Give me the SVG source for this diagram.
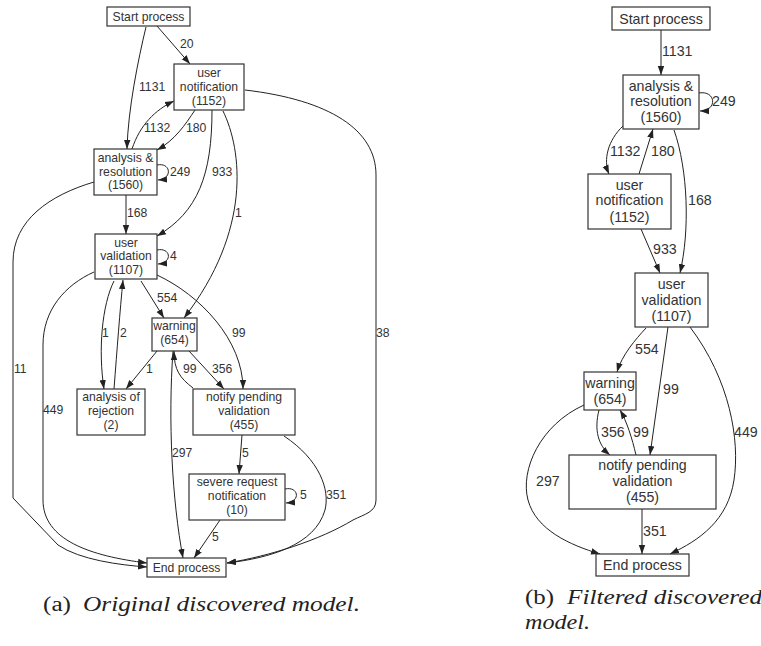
<svg xmlns="http://www.w3.org/2000/svg" width="761" height="646" viewBox="0 0 761 646">
<style>
  .box { fill: #fff; stroke: #333; stroke-width: 1.2; }
  .edge { fill: none; stroke: #222; stroke-width: 1; }
  .nl { font-family: "Liberation Sans", Arial, sans-serif; font-size: 12.2px; fill: #333; text-anchor: middle; dominant-baseline: central; }
  .nr { font-family: "Liberation Sans", Arial, sans-serif; font-size: 14.2px; fill: #333; text-anchor: middle; dominant-baseline: central; }
  .el { font-family: "Liberation Sans", Arial, sans-serif; font-size: 12.2px; fill: #333; dominant-baseline: central; }
  .er { font-family: "Liberation Sans", Arial, sans-serif; font-size: 14.2px; fill: #333; dominant-baseline: central; }
  .cap { font-family: "Liberation Serif", "Times New Roman", serif; font-size: 20px; fill: #222; }
  .capi { font-family: "Liberation Serif", "Times New Roman", serif; font-size: 20px; font-style: italic; fill: #222; }
</style>
<defs>
  <marker id="arr" markerUnits="userSpaceOnUse" markerWidth="10" markerHeight="8" refX="9" refY="4" orient="auto">
    <path d="M0,0.8 L9,4 L0,7.2 Z" fill="#222"/>
  </marker>
</defs>

<!-- left graph: connectors -->
<g id="edges-a">
  <path class="edge" marker-end="url(#arr)" d="M157,26 L190,64"/>
  <path class="edge" marker-end="url(#arr)" d="M146,27 C138,60 128,110 127,149"/>
  <path class="edge" marker-end="url(#arr)" d="M132,149 C140,125 155,110 174,101"/>
  <path class="edge" marker-end="url(#arr)" d="M195,110 C185,125 175,140 157,150"/>
  <path class="edge" marker-end="url(#arr)" d="M212,110 C212,175 198,212 157,236"/>
  <path class="edge" marker-end="url(#arr)" d="M223,111 C242,150 252,230 184,318"/>
  <path class="edge" marker-end="url(#arr)" d="M245,90 C330,100 376,130 376,175 L376,500 C376,512 365,514 353,520 C320,540 270,556 227,563"/>
  <path class="edge" marker-end="url(#arr)" d="M157,165 C171,162 173,179 158,180"/>
  <path class="edge" marker-end="url(#arr)" d="M126,195 L126,234"/>
  <path class="edge" marker-end="url(#arr)" d="M94,182 C50,195 13,220 13,262 L13,498 L58,545 C80,560 120,565 147,567"/>
  <path class="edge" marker-end="url(#arr)" d="M157,250 C171,247 173,263 158,264"/>
  <path class="edge" marker-end="url(#arr)" d="M94,272 C65,285 43,310 43,345 L43,500 C43,540 90,556 147,563"/>
  <path class="edge" marker-end="url(#arr)" d="M114,281 C102,305 98,350 104,389"/>
  <path class="edge" marker-end="url(#arr)" d="M114,389 C117,350 120,310 123,280"/>
  <path class="edge" marker-end="url(#arr)" d="M141,281 L164,318"/>
  <path class="edge" marker-end="url(#arr)" d="M157,275 C200,295 243,340 243,389"/>
  <path class="edge" marker-end="url(#arr)" d="M157,351 L126,389"/>
  <path class="edge" marker-end="url(#arr)" d="M189,351 L224,389"/>
  <path class="edge" marker-end="url(#arr)" d="M193,388 C180,378 174,370 174,351"/>
  <path class="edge" marker-end="url(#arr)" d="M173,351 C168,420 172,500 183,558"/>
  <path class="edge" marker-end="url(#arr)" d="M242,435 L239,474"/>
  <path class="edge" marker-end="url(#arr)" d="M284,436 C320,460 330,490 325,510 C315,545 270,558 227,563"/>
  <path class="edge" marker-end="url(#arr)" d="M285,489 C299,486 301,502 286,503"/>
  <path class="edge" marker-end="url(#arr)" d="M220,520 L194,558"/>
</g>
<g id="edge-labels-a">
  <text class="el" x="180" y="44">20</text>
  <text class="el" x="139" y="87">1131</text>
  <text class="el" x="144" y="128">1132</text>
  <text class="el" x="186" y="128">180</text>
  <text class="el" x="212" y="172">933</text>
  <text class="el" x="170" y="172">249</text>
  <text class="el" x="235" y="213">1</text>
  <text class="el" x="127" y="213">168</text>
  <text class="el" x="170" y="256">4</text>
  <text class="el" x="157" y="298">554</text>
  <text class="el" x="102" y="333">1</text>
  <text class="el" x="120" y="333">2</text>
  <text class="el" x="232" y="333">99</text>
  <text class="el" x="376" y="333">38</text>
  <text class="el" x="14" y="369">11</text>
  <text class="el" x="146" y="369">1</text>
  <text class="el" x="183" y="369">99</text>
  <text class="el" x="212" y="369">356</text>
  <text class="el" x="43" y="410">449</text>
  <text class="el" x="172" y="453">297</text>
  <text class="el" x="242" y="453">5</text>
  <text class="el" x="300" y="495">5</text>
  <text class="el" x="326" y="495">351</text>
  <text class="el" x="212" y="537">5</text>
</g>

<!-- left graph: nodes -->
<g id="a-start">
  <rect class="box" x="107" y="7" width="83" height="19"/>
  <text class="nl" x="148.5" y="16.5">Start process</text>
</g>
<g id="a-user-notification">
  <rect class="box" x="174" y="64" width="70" height="46"/>
  <text class="nl" x="209" y="73">user</text>
  <text class="nl" x="209" y="87">notification</text>
  <text class="nl" x="209" y="100.5">(1152)</text>
</g>
<g id="a-analysis-resolution">
  <rect class="box" x="94" y="149" width="63" height="46"/>
  <text class="nl" x="125.5" y="158">analysis &amp;</text>
  <text class="nl" x="125.5" y="171.5">resolution</text>
  <text class="nl" x="125.5" y="185">(1560)</text>
</g>
<g id="a-user-validation">
  <rect class="box" x="95" y="234" width="62" height="45"/>
  <text class="nl" x="126" y="242.5">user</text>
  <text class="nl" x="126" y="256">validation</text>
  <text class="nl" x="126" y="270">(1107)</text>
</g>
<g id="a-warning">
  <rect class="box" x="152" y="318" width="45" height="33"/>
  <text class="nl" x="174.5" y="326">warning</text>
  <text class="nl" x="174.5" y="340">(654)</text>
</g>
<g id="a-analysis-rejection">
  <rect class="box" x="77" y="389" width="68" height="46"/>
  <text class="nl" x="111" y="397">analysis of</text>
  <text class="nl" x="111" y="411">rejection</text>
  <text class="nl" x="111" y="425">(2)</text>
</g>
<g id="a-notify-pending">
  <rect class="box" x="193" y="389" width="102" height="46"/>
  <text class="nl" x="244" y="397">notify pending</text>
  <text class="nl" x="244" y="411">validation</text>
  <text class="nl" x="244" y="425">(455)</text>
</g>
<g id="a-severe-request">
  <rect class="box" x="189" y="474" width="96" height="46"/>
  <text class="nl" x="237" y="482">severe request</text>
  <text class="nl" x="237" y="496">notification</text>
  <text class="nl" x="237" y="509.5">(10)</text>
</g>
<g id="a-end">
  <rect class="box" x="147" y="558" width="79" height="19"/>
  <text class="nl" x="186.5" y="567.5">End process</text>
</g>

<!-- right graph: connectors -->
<g id="edges-b">
  <path class="edge" marker-end="url(#arr)" d="M661,30 L661,75"/>
  <path class="edge" marker-end="url(#arr)" d="M699,93 C716,90 718,111 700,111"/>
  <path class="edge" marker-end="url(#arr)" d="M623,126 C608,140 603,160 609,174"/>
  <path class="edge" marker-end="url(#arr)" d="M639,174 L653,129"/>
  <path class="edge" marker-end="url(#arr)" d="M674,130 C688,170 690,230 680,273"/>
  <path class="edge" marker-end="url(#arr)" d="M641,229 L660,273"/>
  <path class="edge" marker-end="url(#arr)" d="M646,328 C635,340 622,355 617,372"/>
  <path class="edge" marker-end="url(#arr)" d="M668,327 L650,455"/>
  <path class="edge" marker-end="url(#arr)" d="M690,327 C730,380 740,440 734,480 C728,520 700,540 670,554"/>
  <path class="edge" marker-end="url(#arr)" d="M599,410 C594,430 598,445 610,455"/>
  <path class="edge" marker-end="url(#arr)" d="M636,455 C632,438 627,422 620,410"/>
  <path class="edge" marker-end="url(#arr)" d="M584,405 C540,425 520,470 528,500 C536,530 570,545 600,554"/>
  <path class="edge" marker-end="url(#arr)" d="M642,509 L642,554"/>
</g>
<g id="edge-labels-b">
  <text class="er" x="662" y="51">1131</text>
  <text class="er" x="712" y="101">249</text>
  <text class="er" x="610" y="151">1132</text>
  <text class="er" x="651" y="151">180</text>
  <text class="er" x="688" y="200">168</text>
  <text class="er" x="653" y="249">933</text>
  <text class="er" x="635" y="349">554</text>
  <text class="er" x="663" y="389">99</text>
  <text class="er" x="601" y="432">356</text>
  <text class="er" x="633" y="432">99</text>
  <text class="er" x="734" y="432">449</text>
  <text class="er" x="536" y="481">297</text>
  <text class="er" x="643" y="531">351</text>
</g>

<!-- right graph: nodes -->
<g id="b-start">
  <rect class="box" x="612" y="7" width="98" height="23"/>
  <text class="nr" x="661" y="18.5">Start process</text>
</g>
<g id="b-analysis-resolution">
  <rect class="box" x="623" y="75" width="76" height="54"/>
  <text class="nr" x="661" y="85.5">analysis &amp;</text>
  <text class="nr" x="661" y="101">resolution</text>
  <text class="nr" x="661" y="117">(1560)</text>
</g>
<g id="b-user-notification">
  <rect class="box" x="588" y="174" width="83" height="55"/>
  <text class="nr" x="629.5" y="184.5">user</text>
  <text class="nr" x="629.5" y="200">notification</text>
  <text class="nr" x="629.5" y="216.5">(1152)</text>
</g>
<g id="b-user-validation">
  <rect class="box" x="635" y="273" width="73" height="54"/>
  <text class="nr" x="671.5" y="283.5">user</text>
  <text class="nr" x="671.5" y="299.5">validation</text>
  <text class="nr" x="671.5" y="315.5">(1107)</text>
</g>
<g id="b-warning">
  <rect class="box" x="584" y="372" width="52" height="38"/>
  <text class="nr" x="610" y="382.5">warning</text>
  <text class="nr" x="610" y="398.5">(654)</text>
</g>
<g id="b-notify-pending">
  <rect class="box" x="569" y="455" width="147" height="54"/>
  <text class="nr" x="642.5" y="465">notify pending</text>
  <text class="nr" x="642.5" y="481">validation</text>
  <text class="nr" x="642.5" y="497">(455)</text>
</g>
<g id="b-end">
  <rect class="box" x="596" y="554" width="93" height="22"/>
  <text class="nr" x="642.5" y="565">End process</text>
</g>

<!-- captions -->
<g id="captions">
  <text class="cap" x="43" y="611" textLength="28" lengthAdjust="spacingAndGlyphs">(a)</text>
  <text class="capi" x="83" y="611" textLength="277" lengthAdjust="spacingAndGlyphs">Original discovered model.</text>
  <text class="cap" x="525" y="604" textLength="29" lengthAdjust="spacingAndGlyphs">(b)</text>
  <text class="capi" x="567" y="604" textLength="195" lengthAdjust="spacingAndGlyphs">Filtered discovered</text>
  <text class="capi" x="525" y="629" textLength="65" lengthAdjust="spacingAndGlyphs">model.</text>
</g>
</svg>
